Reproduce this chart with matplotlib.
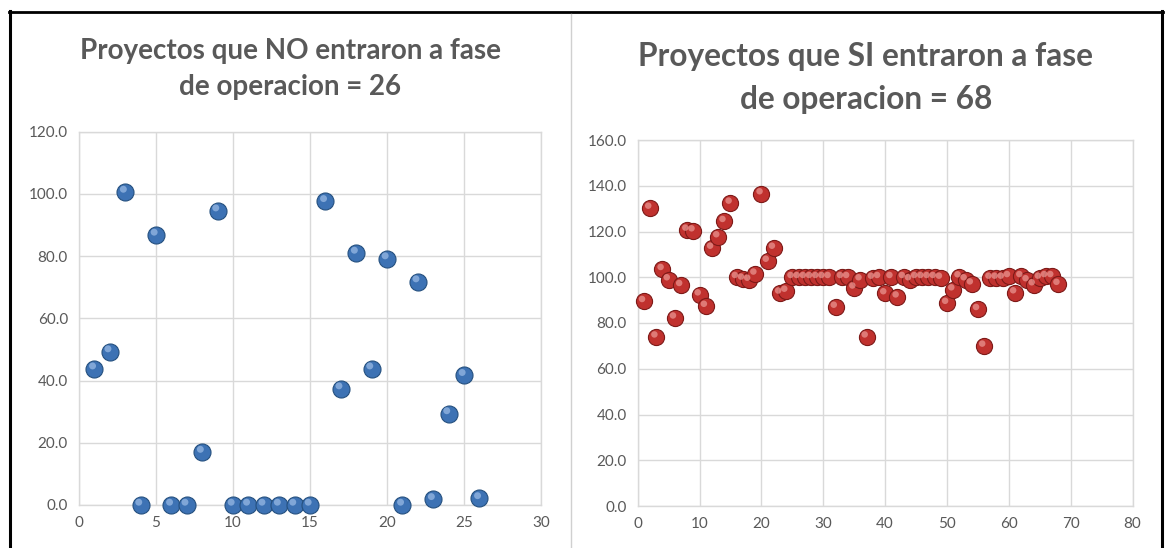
import matplotlib
matplotlib.use('Agg')
import matplotlib.pyplot as plt
from matplotlib.lines import Line2D
from matplotlib.ticker import FormatStrFormatter

# Proyectos que NO entraron a fase de operacion (26)
no_x = list(range(1, 27))
no_y = [43.8, 49.3, 100.6, 0.0, 86.8, 0.0, 0.0, 17.0, 94.6, 0.0,
        0.0, 0.0, 0.0, 0.0, 0.0, 97.6, 37.4, 81.0, 43.8, 79.2,
        0.0, 71.8, 1.8, 29.4, 41.7, 2.1]

# Proyectos que SI entraron a fase de operacion (68)
si_x = list(range(1, 69))
si_y = [89.5, 130.3, 74.0, 103.5, 99.0, 82.3, 96.5, 120.7, 120.4, 92.4,
        87.4, 112.8, 117.8, 124.5, 132.5, 100.0, 99.3, 98.8, 101.5, 136.6,
        107.1, 112.8, 93.2, 94.0, 100.0, 100.0, 100.0, 100.0, 100.0, 100.0,
        100.0, 87.0, 100.0, 100.0, 95.4, 99.0, 74.0, 99.7, 100.0, 92.9,
        100.0, 91.5, 100.0, 99.0, 100.0, 100.0, 100.0, 100.0, 99.7, 88.7,
        94.6, 100.3, 99.0, 97.2, 86.0, 70.0, 99.7, 99.7, 99.7, 100.4,
        93.3, 100.4, 98.6, 96.8, 99.7, 100.4, 100.4, 97.0]

no_title = 'Proyectos que NO entraron a fase\nde operacion = 26'
si_title = 'Proyectos que SI entraron a fase\nde operacion = 68'

plt.rcParams['font.family'] = ['Lato', 'DejaVu Sans']

W, H = 1168, 548
fig = plt.figure(figsize=(W / 100, H / 100), dpi=100)
fig.patch.set_facecolor('white')

grid_c = '#d9d9d9'
text_c = '#595959'


def style_axes(ax, xmax, ymax, xstep, ystep):
    ax.set_xlim(0, xmax)
    ax.set_ylim(0, ymax)
    ax.set_xticks(range(0, xmax + 1, xstep))
    ax.set_yticks(range(0, ymax + 1, ystep))
    ax.yaxis.set_major_formatter(FormatStrFormatter('%.1f'))
    ax.grid(True, color=grid_c, linewidth=1.0)
    ax.set_axisbelow(True)
    for s in ax.spines.values():
        s.set_color(grid_c)
        s.set_linewidth(1.0)
    ax.tick_params(length=0, labelsize=11, labelcolor=text_c, pad=8)


def px_axes(x0, x1, y0, y1):
    # pixel box (top-left origin) -> figure fractions
    return [x0 / W, 1 - y1 / H, (x1 - x0) / W, (y1 - y0) / H]


# panel izquierdo
ax1 = fig.add_axes(px_axes(79, 541, 131.7, 505))
style_axes(ax1, 30, 120, 5, 20)
ax1.scatter(no_x, no_y, s=150, c='#3d72b4', edgecolors='#25507f',
            linewidths=0.8, zorder=3, clip_on=False)
ax1.scatter([x - 0.12 for x in no_x], [y + 0.9 for y in no_y], s=25,
            c='#9dbde6', edgecolors='none', alpha=0.7, zorder=4, clip_on=False)

# panel derecho
ax2 = fig.add_axes(px_axes(637.7, 1132.5, 140, 506))
style_axes(ax2, 80, 160, 10, 20)
ax2.scatter(si_x, si_y, s=135, c='#c0312e', edgecolors='#7d1a18',
            linewidths=0.8, zorder=3, clip_on=False)
ax2.scatter([x - 0.3 for x in si_x], [y + 1.0 for y in si_y], s=22,
            c='#ec9a96', edgecolors='none', alpha=0.7, zorder=4, clip_on=False)

# titulos centrados en cada area del grafico
fig.text(290 / W, 1 - 69 / H, no_title, ha='center', va='center',
         fontsize=20, fontweight='bold', color=text_c, linespacing=1.5)
fig.text(866 / W, 1 - 78 / H, si_title, ha='center', va='center',
         fontsize=22.8, fontweight='bold', color=text_c, linespacing=1.55)

# bordes
fig.add_artist(Line2D([9.5 / W, 9.5 / W], [0, 1 - 11 / H], color='black', linewidth=2.2))
fig.add_artist(Line2D([8.5 / W, 1162.5 / W], [1 - 12 / H, 1 - 12 / H], color='black', linewidth=2.0))
fig.add_artist(Line2D([1161.5 / W, 1161.5 / W], [0, 1 - 11 / H], color='black', linewidth=2.2))
fig.add_artist(Line2D([570.5 / W, 570.5 / W], [0, 1 - 14 / H], color='#d0d0d0', linewidth=1.0))

fig.savefig('out.png', dpi=100, facecolor='white')
